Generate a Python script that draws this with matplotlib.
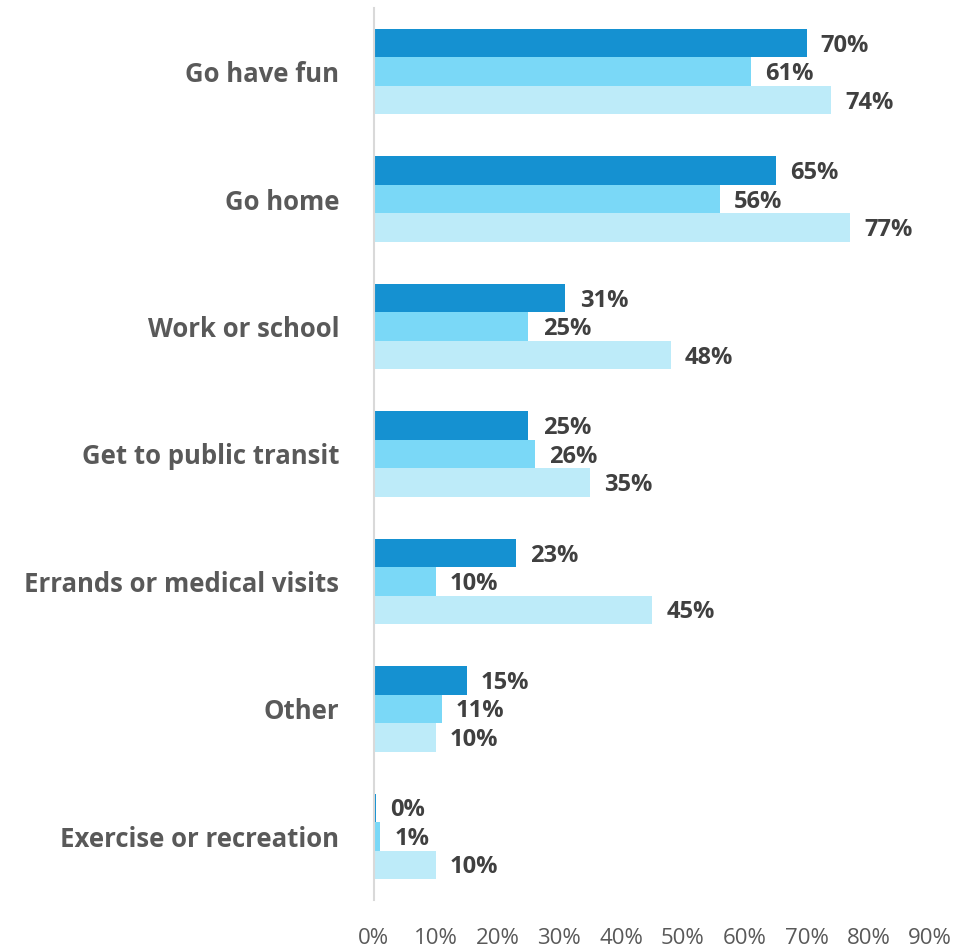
import matplotlib
matplotlib.use('Agg')
import numpy as np
import matplotlib.pyplot as plt

plt.rcParams['font.family'] = ['Open Sans', 'DejaVu Sans']

# categories, top to bottom
categories = ['Go have fun', 'Go home', 'Work or school', 'Get to public transit',
              'Errands or medical visits', 'Other', 'Exercise or recreation']
# three series (dark, medium, light), in percent
series_dark = [70, 65, 31, 25, 23, 15, 0.3]
series_mid = [61, 56, 25, 26, 10, 11, 1]
series_light = [74, 77, 48, 35, 45, 10, 10]
xticks = [0, 10, 20, 30, 40, 50, 60, 70, 80, 90]

colors = ['#1591D1', '#7AD8F7', '#BDEBF9']

fig = plt.figure(figsize=(9.76, 9.48), dpi=100)
ax = fig.add_axes([0.383, 0.0506, 0.570, 0.941])

y = np.arange(len(categories))
h = 0.223
offsets = [-h, 0, h]
for vals, col, off in zip([series_dark, series_mid, series_light], colors, offsets):
    bars = ax.barh(y + off, vals, height=h, color=col, edgecolor='none')
    for b, v in zip(bars, vals):
        ax.text(b.get_width() + 2.3, b.get_y() + b.get_height() / 2 + 0.02, f'{v:.0f}%',
                va='center', ha='left', fontsize=17, fontweight='bold', color='#404040')

ax.set_ylim(len(categories) - 0.5, -0.5)
ax.set_xlim(0, 90)
ax.set_yticks(y)
ax.set_yticklabels(categories, fontsize=18.5, fontweight='bold', color='#595959')
ax.set_xticks(xticks)
ax.set_xticklabels([f'{t}%' for t in xticks], fontsize=16, color='#595959')
ax.tick_params(axis='both', length=0)
ax.tick_params(axis='y', pad=25)
ax.tick_params(axis='x', pad=20)
for s in ['top', 'right', 'bottom']:
    ax.spines[s].set_visible(False)
ax.spines['left'].set_color('#D9D9D9')
ax.spines['left'].set_linewidth(1.5)

fig.savefig('out.png', dpi=100, facecolor='white')
